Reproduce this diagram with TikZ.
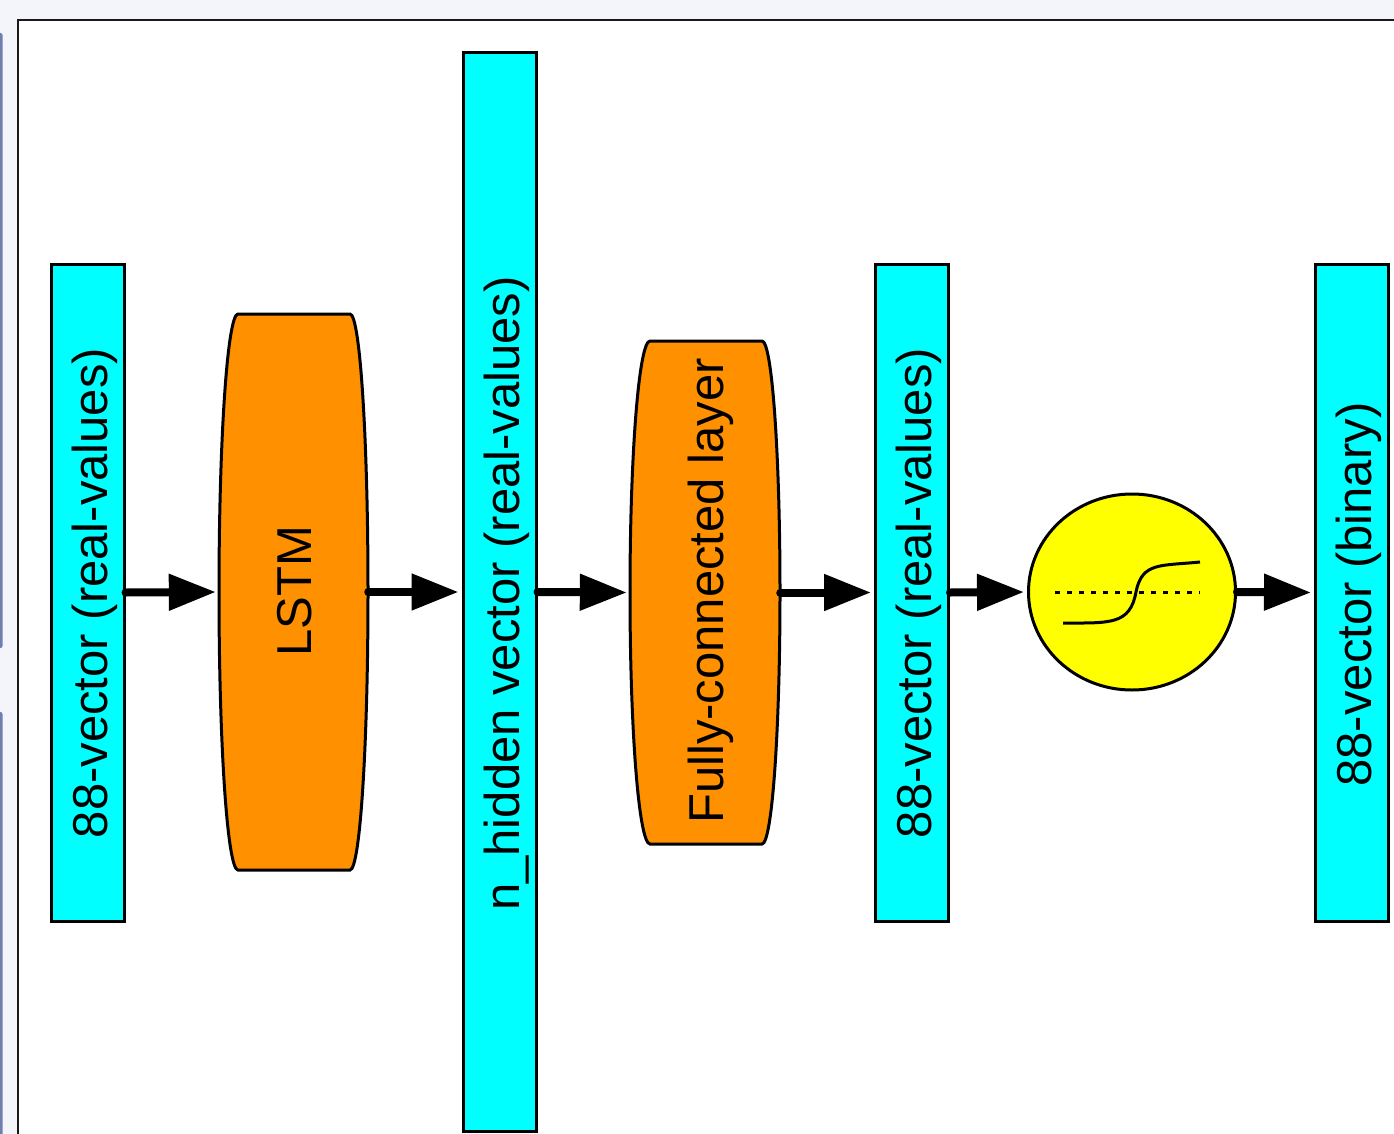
\documentclass[tikz,border=0pt]{standalone}
\usepackage{fontspec}
\setmainfont{Liberation Sans}
\usetikzlibrary{arrows.meta,shapes.geometric}
\definecolor{bgc}{HTML}{F4F5FA}
\definecolor{stripc}{HTML}{6F7FAF}
\definecolor{vecc}{HTML}{00FFFF}
\definecolor{orc}{HTML}{FF9100}
\definecolor{yelc}{HTML}{FFFF00}
\tikzset{
  vecbox/.style={draw=black, line width=3pt, fill=vecc, inner sep=0pt, minimum width=73pt},
  lbl/.style={rotate=90, anchor=base, inner sep=0pt, font=\fontsize{49pt}{58pt}\selectfont},
  ghost/.style={inner sep=0pt},
  barrel/.style={draw=black, line width=3pt, fill=orc},
  arr/.style={line width=8pt, line cap=round, shorten >=3pt, -{Triangle[length=47pt,width=35pt]}},
}
\begin{document}
\begin{tikzpicture}[x=1pt,y=-1pt]
\useasboundingbox (0,0) rectangle (1394,1134);
\fill[bgc] (0,0) rectangle (1394,1134);
\fill[stripc, rounded corners=2pt] (-4,33) rectangle (2.5,648);
\fill[stripc, rounded corners=2pt] (-4,712) rectangle (2.5,1145);
\draw[line width=2.5pt, draw=black!90, fill=white] (18,20) rectangle (1410,1150);

% vectors
\node[vecbox, minimum height=657pt] (v1) at (87.5,592.5) {};
\node[vecbox, minimum height=1078pt] (v2) at (499.5,592) {};
\node[vecbox, minimum height=657pt] (v3) at (912,592.5) {};
\node[vecbox, minimum height=657pt] (v4) at (1352,592.5) {};

% LSTM barrel
\node[ghost, minimum width=149pt, minimum height=556pt] (lstm) at (293.5,592) {};
\draw[barrel] (238,314) -- (350,314) .. controls (360,314) and (368,438.5) .. (368,592)
  .. controls (368,745.5) and (360,870) .. (350,870) -- (238,870)
  .. controls (227.5,870) and (219,745.5) .. (219,592)
  .. controls (219,438.5) and (227.5,314) .. (238,314) -- cycle;

% FC barrel
\node[ghost, minimum width=150pt, minimum height=503pt] (fc) at (705,592.5) {};
\draw[barrel] (650,341) -- (762,341) .. controls (772,341) and (780,453.6) .. (780,592.5)
  .. controls (780,731.4) and (772,844) .. (762,844) -- (650,844)
  .. controls (639,844) and (630,731.4) .. (630,592.5)
  .. controls (630,453.6) and (639,341) .. (650,341) -- cycle;

% sigmoid
\node[ellipse, draw=black, line width=3pt, fill=yelc, inner sep=0pt,
      minimum width=207pt, minimum height=196pt] (sig) at (1132,592) {};
\begin{scope}[shift={(sig.center)}]
  \draw[line width=3pt, dash pattern=on 5pt off 7pt] (-77,0) -- (68,0);
  \draw[line width=3pt] (-69,31) .. controls (-22,31) and (-2,33) .. (4,0)
    .. controls (10,-30) and (28,-26) .. (68,-30);
\end{scope}

% labels
\node[lbl] (t1) at (107,593) {88-vector (real-values)};
\node[lbl] (tl) at (311,591) {LSTM};
\node[lbl] (t2) at (519,593.5) {n\_hidden vector (real-values)};
\node[lbl] (tf) at (723,591) {Fully-connected layer};
\node[lbl] (t3) at (931.5,593) {88-vector (real-values)};
\node[lbl] (t4) at (1371.5,594.5) {88-vector (binary)};

% arrows
\draw[arr] (v1.east) -- (lstm.west);
\draw[arr] (lstm.east) -- (v2.west);
\draw[arr] (v2.east) -- (fc.west);
\draw[arr] (fc.east) -- (v3.west);
\draw[arr] (v3.east) -- (sig.west);
\draw[arr] (sig.east) -- (v4.west);
\end{tikzpicture}
\end{document}
